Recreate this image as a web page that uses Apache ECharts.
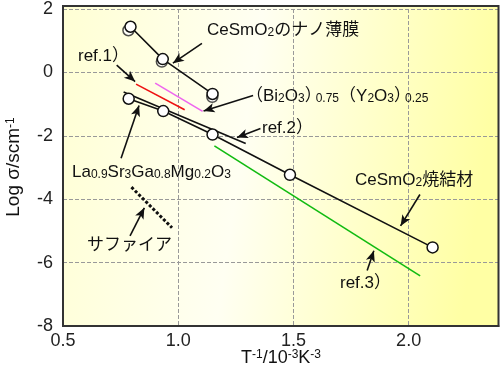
<!DOCTYPE html>
<html><head><meta charset="utf-8">
<script src="https://cdn.jsdelivr.net/npm/echarts@6/dist/echarts.min.js"></script>
<style>html,body{margin:0;padding:0;background:#fff}#c{width:500px;height:368px}</style>
</head><body><div id="c"></div>
<script>
// ---- data ----
const xTickLabels = ['0.5', '1.0', '1.5', '2.0'];
const yTickLabels = ['2', '0', '-2', '-4', '-6', '-8'];
const nanoFilm = [[0.793, 1.44], [0.933, 0.42], [1.149, -0.68]];
const nanoFilmShadow = [[0.784, 1.33], [0.929, 0.34], [1.148, -0.77]];
const sintered = [[0.785, -0.83], [0.935, -1.22], [1.149, -1.96], [1.485, -3.23], [2.104, -5.52]];
const ref1 = [[0.817, -0.37], [1.028, -1.18]];
const bi2o3 = [[0.900, -0.34], [1.106, -1.23]];
const ref2 = [[0.763, -0.62], [1.293, -2.24]];
const ref3 = [[1.157, -2.32], [2.050, -6.42]];
const sapphire = [[0.797, -3.62], [0.973, -4.90]];
// annotation arrows: [from, tip] in data units
const arrowFrom = [[1.103, 0.916], [0.733, 0.228], [1.325, -0.728], [1.357, -1.772], [0.752, -2.709], [2.049, -3.853], [1.820, -6.25], [0.791, -5.156]];
const arrowTip  = [[0.977, 0.291], [0.813, -0.291], [1.110, -1.219], [1.255, -2.053], [0.830, -1.041], [1.965, -4.844], [1.849, -5.625], [0.853, -4.272]];

const FONT = '"Liberation Sans", "Noto Sans CJK JP", sans-serif';
const chart = echarts.init(document.getElementById('c'), null, {renderer: 'canvas'});

function mkRich(size, sub) {
  return {
    n: {fontSize: size, fontFamily: FONT, fill: '#111'},
    c: {fontSize: size, fontFamily: FONT, fill: '#111', width: 11, align: 'left'},
    s: {fontSize: sub, fontFamily: FONT, fill: '#111', verticalAlign: 'bottom'},
    p: {fontSize: sub, fontFamily: FONT, fill: '#111', verticalAlign: 'top'}
  };
}
const rich = mkRich(17, 12);
function txt(x, y, text, r) {
  return {
    type: 'text', x: x, y: y, z: 100, silent: true,
    style: {text: text, rich: r || rich, fontSize: 17, fontFamily: FONT, fill: '#111', verticalAlign: 'middle', align: 'left'}
  };
}

const lineSeries = (data, color, width, type) => ({
  type: 'line', data: data, showSymbol: false, symbol: 'none', silent: true,
  lineStyle: {color: color, width: width, type: type || 'solid'}, z: 3
});

const GL = 63, GT = 6, GR = 1.5, GB = 42;
const splitStyle = {show: true, lineStyle: {color: '#999999', type: 'dashed', width: 1}};

const option = {
  animation: false,
  backgroundColor: '#fff',
  grid: {
    left: GL, top: GT, right: GR, bottom: GB, show: false
  },
  xAxis: {
    type: 'value', min: 0.5, max: 2.39, interval: 0.5,
    axisLine: {show: true, onZero: false, lineStyle: {color: '#333', width: 2}},
    axisTick: {show: false},
    axisLabel: {
      margin: 6, fontSize: 18, fontFamily: FONT, color: '#222', showMaxLabel: false,
      formatter: v => { const i = Math.round((v - 0.5) / 0.5); return Math.abs(v - (0.5 + i * 0.5)) < 1e-6 && xTickLabels[i] ? xTickLabels[i] : ''; }
    },
    splitLine: splitStyle
  },
  yAxis: {
    type: 'value', min: -8, max: 2, interval: 2,
    axisLine: {show: true, onZero: false, lineStyle: {color: '#333', width: 2}},
    axisTick: {show: false},
    axisLabel: {
      margin: 10, fontSize: 18, fontFamily: FONT, color: '#222',
      formatter: v => { const i = Math.round((2 - v) / 2); return yTickLabels[i] || ''; }
    },
    splitLine: splitStyle
  },
  series: [
    lineSeries(ref1, '#ee1111', 1.6),
    lineSeries(bi2o3, '#ee66ee', 1.6),
    lineSeries(ref2, '#111', 1.6),
    lineSeries(ref3, '#11bb11', 1.6),
    lineSeries(sapphire, '#111', 3, [3, 2]),
    {
      type: 'scatter', data: nanoFilmShadow, symbol: 'circle', symbolSize: 11, silent: true, z: 4,
      itemStyle: {color: '#fff', borderColor: '#222', borderWidth: 1.5}
    },
    {
      type: 'line', data: nanoFilm, symbol: 'circle', symbolSize: 11, showSymbol: true, silent: true, z: 5,
      lineStyle: {color: '#111', width: 1.6},
      itemStyle: {color: '#fff', borderColor: '#111', borderWidth: 1.5}
    },
    {
      type: 'line', data: sintered, symbol: 'circle', symbolSize: 11, showSymbol: true, silent: true, z: 5,
      lineStyle: {color: '#111', width: 1.6},
      itemStyle: {color: '#fff', borderColor: '#111', borderWidth: 1.5}
    },
    {
      type: 'scatter', data: [], silent: true, z: 6,
      markLine: {
        silent: true, animation: false,
        symbol: ['none', 'arrow'], symbolSize: [7, 11],
        label: {show: false},
        lineStyle: {color: '#111', width: 1.6, type: 'solid'},
        emphasis: {disabled: true},
        data: arrowFrom.map((f, i) => [{coord: f}, {coord: arrowTip[i]}])
      }
    }
  ],
  graphic: [
    {
      type: 'rect', z: -10, silent: true,
      shape: {x: GL, y: GT, width: 500 - GL - GR, height: 368 - GT - GB},
      style: {
        fill: new echarts.graphic.LinearGradient(0, 0, 1, 0.2, [
          {offset: 0, color: '#ffffd4'},
          {offset: 0.45, color: '#fffff2'},
          {offset: 1, color: '#ffffa4'}
        ])
      }
    },
    {
      type: 'rect', z: 50, silent: true,
      shape: {x: GL, y: GT, width: 500 - GL - GR, height: 368 - GT - GB},
      style: {fill: 'none', stroke: '#333', lineWidth: 2}
    },
    txt(207, 30, '{n|CeSmO}{s|2}{n|のナノ薄膜}'),
    txt(78, 56, '{n|ref.1）}'),
    txt(246, 96, '{n|（Bi}{s|2}{n|O}{s|3}{c|）}{s|0.75}{n|（Y}{s|2}{n|O}{s|3}{c|）}{s|0.25}'),
    txt(262, 128, '{n|ref.2）}'),
    txt(72, 172, '{n|La}{s|0.9}{n|Sr}{s|3}{n|Ga}{s|0.8}{n|Mg}{s|0.2}{n|O}{s|3}'),
    txt(355, 180, '{n|CeSmO}{s|2}{n|焼結材}'),
    txt(340, 283, '{n|ref.3）}'),
    txt(87, 245, '{n|サファイア}'),
    {
      type: 'text', x: 14, y: 167, rotation: Math.PI / 2, silent: true, z: 100,
      style: {text: '{n|Log σ/scm}{p|-1}', rich: mkRich(19, 12), align: 'center', verticalAlign: 'middle', fontSize: 19, fontFamily: FONT, fill: '#111'}
    },
    {
      type: 'text', x: 281, y: 358, silent: true, z: 100,
      style: {text: '{n|T}{p|-1}{n|/10}{p|-3}{n|K}{p|-3}', rich: mkRich(18, 12), align: 'center', verticalAlign: 'middle', fontSize: 18, fontFamily: FONT, fill: '#111'}
    }
  ]
};
chart.setOption(option);
</script>
</body></html>
